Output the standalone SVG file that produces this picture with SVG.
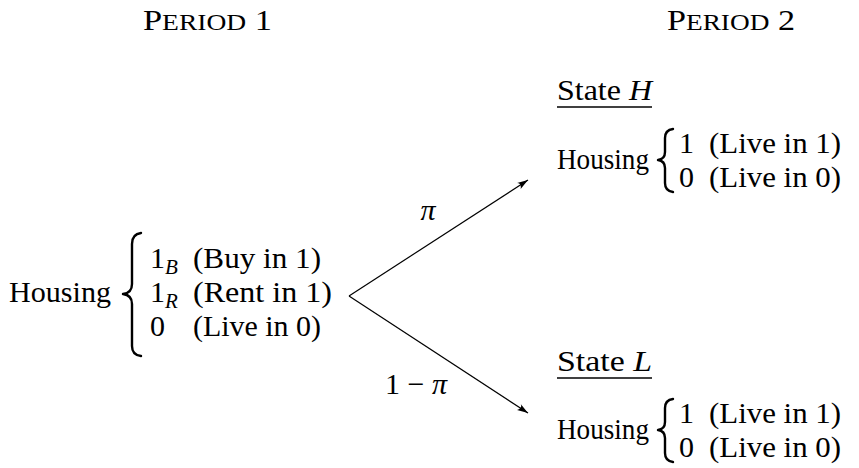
<svg xmlns="http://www.w3.org/2000/svg" width="859" height="468" viewBox="0 0 859 468">
<style>
text{font-family:"Liberation Serif","Times New Roman",serif;font-size:30px;fill:#000}
.sc{font-size:24px}
.it{font-style:italic}
.sub{font-size:21px;font-style:italic}
.brace{fill:none;stroke:#000;stroke-width:2.4;stroke-linecap:round;stroke-linejoin:round}
.edge{fill:none;stroke:#000;stroke-width:1.2}
.ul{stroke:#000;stroke-width:1.3}
</style>
<defs>
<marker id="ah" markerUnits="userSpaceOnUse" markerWidth="12" markerHeight="8" refX="11" refY="4" orient="auto">
<path d="M0,0.5 Q4,3 0,7.5 L11,4 Z" fill="#000"/>
</marker>
</defs>
<g id="headings">
<text x="143" y="30" textLength="129" lengthAdjust="spacingAndGlyphs">P<tspan class="sc">ERIOD</tspan> 1</text>
<text x="667" y="30" textLength="128" lengthAdjust="spacingAndGlyphs">P<tspan class="sc">ERIOD</tspan> 2</text>
</g>
<g id="period1">
<text x="9" y="302" textLength="102" lengthAdjust="spacingAndGlyphs">Housing</text>
<path class="brace" d="M141,233 Q132,234 132,244 L132,284 Q132,293 123,294 Q132,295 132,304 L132,346 Q132,355 141,356"/>
<text x="150" y="268">1</text><text class="sub" x="165" y="274">B</text>
<text x="193" y="268" textLength="128" lengthAdjust="spacingAndGlyphs">(Buy in 1)</text>
<text x="150" y="302">1</text><text class="sub" x="165" y="308">R</text>
<text x="193" y="302" textLength="139" lengthAdjust="spacingAndGlyphs">(Rent in 1)</text>
<text x="150" y="336">0</text>
<text x="193" y="336" textLength="128" lengthAdjust="spacingAndGlyphs">(Live in 0)</text>
</g>
<g id="connectors">
<line class="edge" x1="349" y1="296" x2="528" y2="180" marker-end="url(#ah)"/>
<line class="edge" x1="349" y1="296" x2="528" y2="413" marker-end="url(#ah)"/>
<text class="it" x="428" y="220" text-anchor="middle">π</text>
<text x="416" y="394" text-anchor="middle" textLength="62" lengthAdjust="spacingAndGlyphs">1 − <tspan class="it">π</tspan></text>
</g>
<g id="stateH">
<text x="557" y="100" textLength="95" lengthAdjust="spacingAndGlyphs">State <tspan class="it">H</tspan></text>
<line class="ul" x1="557" y1="107" x2="652" y2="107"/>
<text x="557" y="169" textLength="92" lengthAdjust="spacingAndGlyphs">Housing</text>
<path class="brace" d="M673,129 Q665,130 665,138 L665,152 Q665,159 658,160 Q665,161 665,168 L665,183 Q665,191 673,192"/>
<text x="679" y="153">1</text>
<text x="709" y="153" textLength="132" lengthAdjust="spacingAndGlyphs">(Live in 1)</text>
<text x="679" y="187">0</text>
<text x="709" y="187" textLength="132" lengthAdjust="spacingAndGlyphs">(Live in 0)</text>
</g>
<g id="stateL">
<text x="557" y="371" textLength="95" lengthAdjust="spacingAndGlyphs">State <tspan class="it">L</tspan></text>
<line class="ul" x1="557" y1="378" x2="652" y2="378"/>
<text x="557" y="439" textLength="92" lengthAdjust="spacingAndGlyphs">Housing</text>
<path class="brace" d="M673,399 Q665,400 665,408 L665,422 Q665,429 658,430 Q665,431 665,438 L665,453 Q665,461 673,462"/>
<text x="679" y="423">1</text>
<text x="709" y="423" textLength="132" lengthAdjust="spacingAndGlyphs">(Live in 1)</text>
<text x="679" y="457">0</text>
<text x="709" y="457" textLength="132" lengthAdjust="spacingAndGlyphs">(Live in 0)</text>
</g>
</svg>
